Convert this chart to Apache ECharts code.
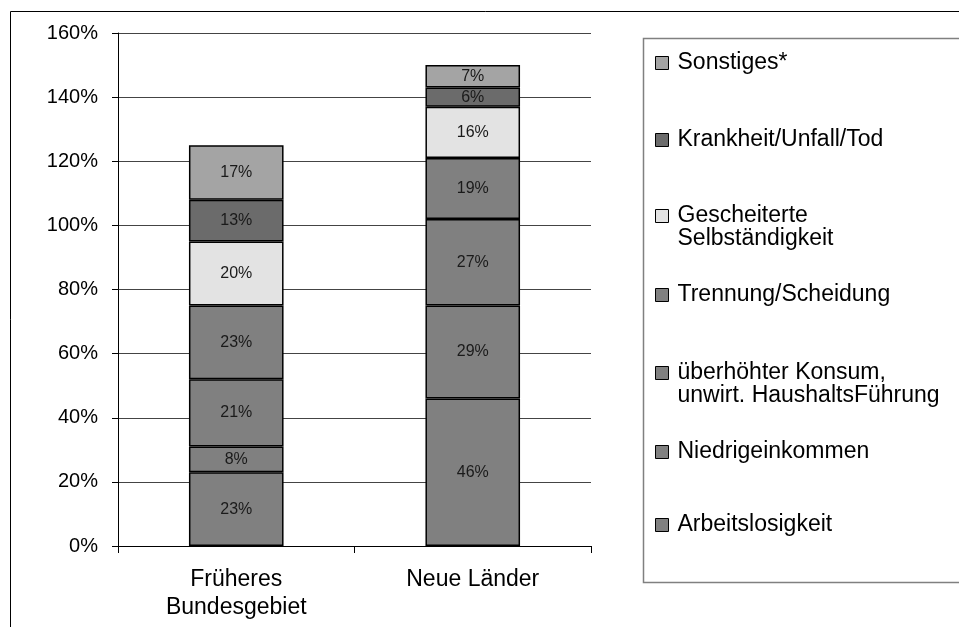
<!DOCTYPE html>
<html>
<head>
<meta charset="utf-8">
<script src="https://cdn.jsdelivr.net/npm/echarts@6/dist/echarts.min.js"></script>
<style>
  html, body { margin: 0; padding: 0; background: #fff; }
  #chart { width: 959px; height: 627px; }
</style>
</head>
<body>
<div id="chart"></div>
<script>
// Kategorien (x-Achse)
var categories = ["Früheres\nBundesgebiet", "Neue Länder"];

// Anteile in %, je Kategorie [Früheres Bundesgebiet, Neue Länder]
var arbeitslosigkeit = [23, 46];
var niedrigeinkommen = [8, 29];
var konsum = [21, 27];
var trennung = [23, 19];
var selbstaendigkeit = [20, 16];
var krankheit = [13, 6];
var sonstiges = [17, 7];

var seriesNames = [
  "Arbeitslosigkeit",
  "Niedrigeinkommen",
  "überhöhter Konsum,\nunwirt. HaushaltsFührung",
  "Trennung/Scheidung",
  "Gescheiterte\nSelbständigkeit",
  "Krankheit/Unfall/Tod",
  "Sonstiges*"
];
var seriesData = [arbeitslosigkeit, niedrigeinkommen, konsum, trennung, selbstaendigkeit, krankheit, sonstiges];
var seriesColors = ["#808080", "#808080", "#808080", "#808080", "#e3e3e3", "#6b6b6b", "#a4a4a4"];

var font = "'Liberation Sans', Arial, sans-serif";

var myChart = echarts.init(document.getElementById("chart"));

var series = [];
for (var i = 0; i < seriesNames.length; i++) {
  series.push({
    name: seriesNames[i],
    type: "bar",
    stack: "total",
    barWidth: "40%",
    data: seriesData[i],
    itemStyle: {
      color: seriesColors[i],
      borderColor: "#000",
      borderWidth: 1.5
    },
    label: {
      show: true,
      position: "inside",
      formatter: "{c}%",
      fontFamily: font,
      fontSize: 16,
      color: "#1a1a1a"
    },
    emphasis: { disabled: true }
  });
}

// eine Legende je Eintrag, damit die Abstände wie im Original sind
var legendTops = [513.5, 440.5, 338.5, 283.5, 181.5, 128.5, 51.5];
var legends = [];
for (var j = 0; j < seriesNames.length; j++) {
  legends.push({
    data: [seriesNames[j]],
    left: 655,
    top: legendTops[j],
    padding: 0,
    icon: "rect",
    itemWidth: 13,
    itemHeight: 13,
    selectedMode: false,
    itemStyle: { borderColor: "#000", borderWidth: 1 },
    // zweizeilige Einträge: Leerzeile davor, damit das Kästchen bei der ersten Zeile steht
    formatter: function (name) {
      return name.indexOf("\n") >= 0 ? " \n" + name : name;
    },
    textStyle: {
      fontFamily: font,
      fontSize: 23,
      lineHeight: 23,
      color: "#000",
      padding: [0, 0, 0, 4]
    }
  });
}

var option = {
  animation: false,
  textStyle: { fontFamily: font },
  grid: {
    left: 118,
    right: 368,
    top: 33,
    bottom: 81
  },
  legend: legends,
  xAxis: {
    type: "category",
    data: categories,
    axisLine: { lineStyle: { color: "#000", width: 1 } },
    axisTick: { show: true, length: 7, lineStyle: { color: "#000" } },
    axisLabel: {
      fontFamily: font,
      fontSize: 23,
      lineHeight: 28,
      color: "#000",
      margin: 20
    }
  },
  yAxis: {
    type: "value",
    min: 0,
    max: 160,
    interval: 20,
    axisLine: { show: true, lineStyle: { color: "#000", width: 1 } },
    axisTick: { show: true, length: 6, lineStyle: { color: "#000" } },
    axisLabel: {
      formatter: "{value}%",
      fontFamily: font,
      fontSize: 20,
      color: "#000",
      margin: 20
    },
    splitLine: { lineStyle: { color: "#444", width: 1 } }
  },
  graphic: [
    {
      // äußerer Rahmen
      type: "rect",
      left: 8,
      top: 9,
      shape: { width: 1000, height: 700 },
      style: { fill: "none", stroke: "#000", lineWidth: 1 },
      z: -1
    },
    {
      // Legendenrahmen
      type: "rect",
      left: 641,
      top: 36,
      shape: { width: 400, height: 544 },
      style: { fill: "none", stroke: "#808080", lineWidth: 1.5 },
      z: -1
    }
  ],
  series: series
};

myChart.setOption(option);
</script>
</body>
</html>
